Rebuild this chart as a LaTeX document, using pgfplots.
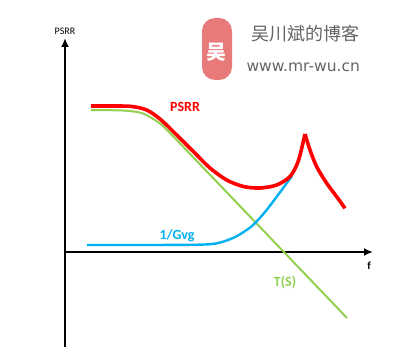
\documentclass[border=0pt]{standalone}
\usepackage{pgfplots}
\pgfplotsset{compat=1.18}
\usepackage{fontspec}
\setmainfont{Carlito}
\newfontfamily\cjk{Noto Sans CJK SC}
\newfontfamily\wm{DejaVu Sans}
\usetikzlibrary{arrows.meta}
\definecolor{psrr}{RGB}{255,0,0}
\definecolor{tsg}{RGB}{146,208,80}
\definecolor{gvg}{RGB}{0,176,240}
\definecolor{logo}{RGB}{232,122,122}
\definecolor{wmgray}{RGB}{100,100,100}
\begin{document}
\begin{tikzpicture}
\begin{axis}[
  width=400pt, height=363pt, scale only axis,
  xmin=0, xmax=400, ymin=0, ymax=363, y dir=reverse,
  hide axis, clip=false]
% background frame for exact size
\path[fill=white] (axis cs:0,0) rectangle (axis cs:400,363);
% axes
\addplot[black, line width=2.3pt, -{Latex[length=9pt,width=8pt]}] coordinates {(65,347) (65,38)};
\addplot[black, line width=2.3pt, -{Latex[length=9pt,width=8pt]}] coordinates {(65,252) (373,252)};
% T(S)
\addplot[tsg, line width=2pt, smooth, tension=0.5] coordinates {
 (91,110) (110,110.2) (127,110.8) (143,113.5) (160,123.5) (176.7,140) (193,157)};
\addplot[tsg, line width=2pt] coordinates {(193,157) (347,318)};
% 1/Gvg
\addplot[gvg, line width=2.4pt, smooth, tension=0.5] coordinates {
 (87,245) (150,245) (205,244.5) (222,242) (237,236) (252,226) (265,212) (278,195) (292,176)};
% PSRR
\addplot[psrr, line width=3.6pt, smooth, tension=0.5] coordinates {
 (91,106) (115,106) (132,106.5) (146.7,110) (160,119) (176.7,135) (193.3,151.5) (210,168) (226.7,180) (243.3,186.5) (260,188) (276.7,185) (290,176.5) (298.3,161) (305,134)};
\addplot[psrr, line width=3.6pt, smooth, tension=0.5] coordinates {
 (305,134) (310,150) (316.7,166.7) (326.7,183.3) (336.7,196.7) (345,208.3)};
% labels
\node[font=\fontsize{10}{11}\selectfont] at (axis cs:65,31) {PSRR};
\node[font=\fontsize{11}{12}\selectfont\bfseries] at (axis cs:369,266) {f};
\node[psrr, font=\fontsize{14}{15}\selectfont\bfseries] at (axis cs:185,107) {PSRR};
\node[gvg, font=\fontsize{14}{15}\selectfont\bfseries] at (axis cs:177,236) {1/Gvg};
\node[tsg, font=\fontsize{14}{15}\selectfont\bfseries] at (axis cs:285,282) {T(S)};
% watermark
\path[fill=logo, rounded corners=13pt] (axis cs:202,18) rectangle (axis cs:232,80);
\node[white, font=\cjk\fontsize{20}{22}\selectfont\bfseries] at (axis cs:216,52) {吴};
\node[wmgray, font=\cjk\fontsize{18}{20}\selectfont, anchor=west] at (axis cs:248,34) {吴川斌的博客};
\node[wmgray, font=\wm\fontsize{15.5}{18}\selectfont, anchor=west] at (axis cs:243,67) {www.mr-wu.cn};
\end{axis}
\end{tikzpicture}
\end{document}
